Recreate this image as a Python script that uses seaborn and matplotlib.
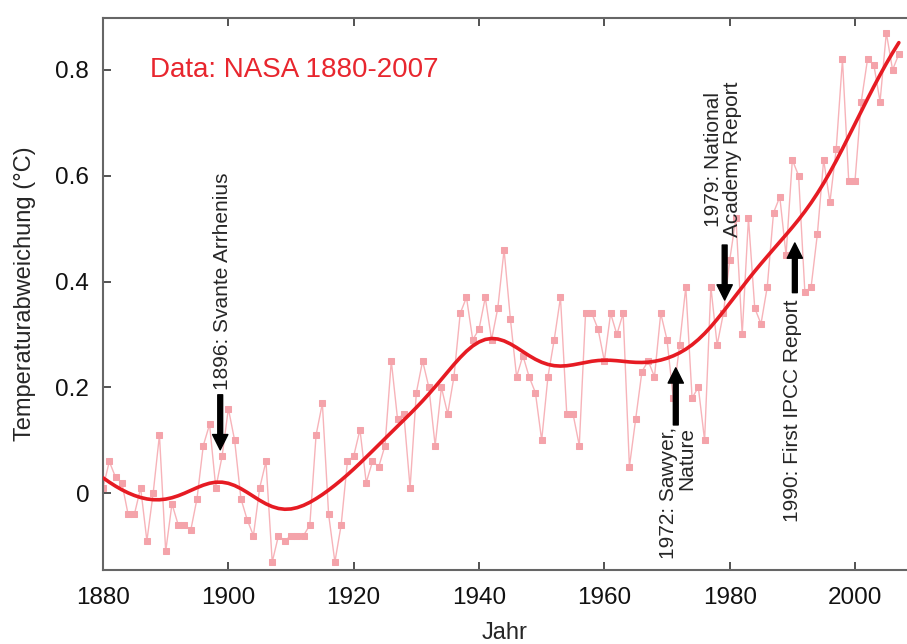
import numpy as np
import pandas as pd
import matplotlib
matplotlib.use("Agg")
import matplotlib.pyplot as plt
import seaborn as sns

# 1. style
sns.set_theme(style="ticks")
plt.rcParams['font.family'] = ['Liberation Sans', 'DejaVu Sans']

# 2. data: annual temperature anomaly
years = list(range(1880, 2008))
anomaly = [
    0.01, 0.06, 0.03, 0.02, -0.04, -0.04, 0.01, -0.09, 0.00, 0.11,   # 1880s
    -0.11, -0.02, -0.06, -0.06, -0.07, -0.01, 0.09, 0.13, 0.01, 0.07,  # 1890s
    0.16, 0.10, -0.01, -0.05, -0.08, 0.01, 0.06, -0.13, -0.08, -0.09,  # 1900s
    -0.08, -0.08, -0.08, -0.06, 0.11, 0.17, -0.04, -0.13, -0.06, 0.06,  # 1910s
    0.07, 0.12, 0.02, 0.06, 0.05, 0.09, 0.25, 0.14, 0.15, 0.01,   # 1920s
    0.19, 0.25, 0.20, 0.09, 0.20, 0.15, 0.22, 0.34, 0.37, 0.29,   # 1930s
    0.31, 0.37, 0.29, 0.35, 0.46, 0.33, 0.22, 0.26, 0.22, 0.19,   # 1940s
    0.10, 0.22, 0.29, 0.37, 0.15, 0.15, 0.09, 0.34, 0.34, 0.31,   # 1950s
    0.25, 0.34, 0.30, 0.34, 0.05, 0.14, 0.23, 0.25, 0.22, 0.34,   # 1960s
    0.29, 0.18, 0.28, 0.39, 0.18, 0.20, 0.10, 0.39, 0.28, 0.34,   # 1970s
    0.44, 0.52, 0.30, 0.52, 0.35, 0.32, 0.39, 0.53, 0.56, 0.45,   # 1980s
    0.63, 0.60, 0.38, 0.39, 0.49, 0.63, 0.55, 0.65, 0.82, 0.59,   # 1990s
    0.59, 0.74, 0.82, 0.81, 0.74, 0.87, 0.80, 0.83,               # 2000s
]

# events marked with arrows: (label, year, arrow from, arrow to)
events = [
    ("1896: Svante Arrhenius", 1898.7, 0.186, 0.082),
    ("1972: Sawyer,\nNature", 1971.4, 0.129, 0.237),
    ("1979: National\nAcademy Report", 1979.2, 0.469, 0.365),
    ("1990: First IPCC Report", 1990.4, 0.379, 0.473),
]

df = pd.DataFrame({"Jahr": years, "anomaly": anomaly})

# smoothed trend: local linear regression with gaussian weights
def smooth(x, y, bw=5.0):
    x = np.asarray(x, float)
    y = np.asarray(y, float)
    out = []
    for x0 in x:
        w = np.exp(-0.5 * ((x - x0) / bw) ** 2)
        X = np.column_stack([np.ones_like(x), x - x0])
        W = np.diag(w)
        beta = np.linalg.solve(X.T @ W @ X, X.T @ W @ y)
        out.append(beta[0])
    return np.array(out)

df["trend"] = smooth(df["Jahr"], df["anomaly"])

fig = plt.figure(figsize=(9.07, 6.44), dpi=100)
ax = fig.add_axes([0.1136, 0.115, 0.8864, 0.857])

sns.lineplot(data=df, x="Jahr", y="anomaly", ax=ax, color="#f7b3b9", lw=1.0,
             marker="s", markersize=5, markerfacecolor="#f4a3aa",
             markeredgecolor="#f4a3aa", zorder=2)
sns.lineplot(data=df, x="Jahr", y="trend", ax=ax, color="#e61b23", lw=2.6, zorder=3)

ax.set_xlim(1880, 2008.3)
ax.set_ylim(-0.145, 0.898)
ax.set_xticks([1880, 1900, 1920, 1940, 1960, 1980, 2000])
ax.set_yticks([0, 0.2, 0.4, 0.6, 0.8])
ax.set_yticklabels(["0", "0.2", "0.4", "0.6", "0.8"])
ax.tick_params(direction="in", length=6, width=1.3, color="#444444",
               labelsize=17.5, top=True, labelcolor="#111111")
ax.tick_params(axis="x", pad=12)
ax.tick_params(axis="y", pad=10)
for s in ["left", "bottom", "top"]:
    ax.spines[s].set_color("#666666")
    ax.spines[s].set_linewidth(1.5)
ax.spines["right"].set_visible(False)

ax.set_xlabel("Jahr", fontsize=17, labelpad=10)
ax.set_ylabel("Temperaturabweichung (°C)", fontsize=17, labelpad=14)

ax.text(0.058, 0.905, "Data: NASA 1880-2007", transform=ax.transAxes,
        color="#e8262e", fontsize=20, va="center", ha="left")

# arrows + labels
for label, x, y0, y1 in events:
    ax.annotate("", xy=(x, y1), xytext=(x, y0),
                arrowprops=dict(facecolor="black", edgecolor="black",
                                width=3.5, headwidth=11, headlength=11, shrink=0))

ax.text(1899.0, 0.195, events[0][0], rotation=90, ha="center", va="bottom", fontsize=15)
ax.text(1971.7, 0.125, events[1][0], rotation=90, ha="center", va="top",
        multialignment="right", fontsize=15, linespacing=1.0)
ax.text(1979.0, 0.484, events[2][0], rotation=90, ha="center", va="bottom",
        multialignment="center", fontsize=15, linespacing=1.0)
ax.text(1990.0, 0.366, events[3][0], rotation=90, ha="center", va="top", fontsize=15)

plt.savefig("out.png", dpi=100)
